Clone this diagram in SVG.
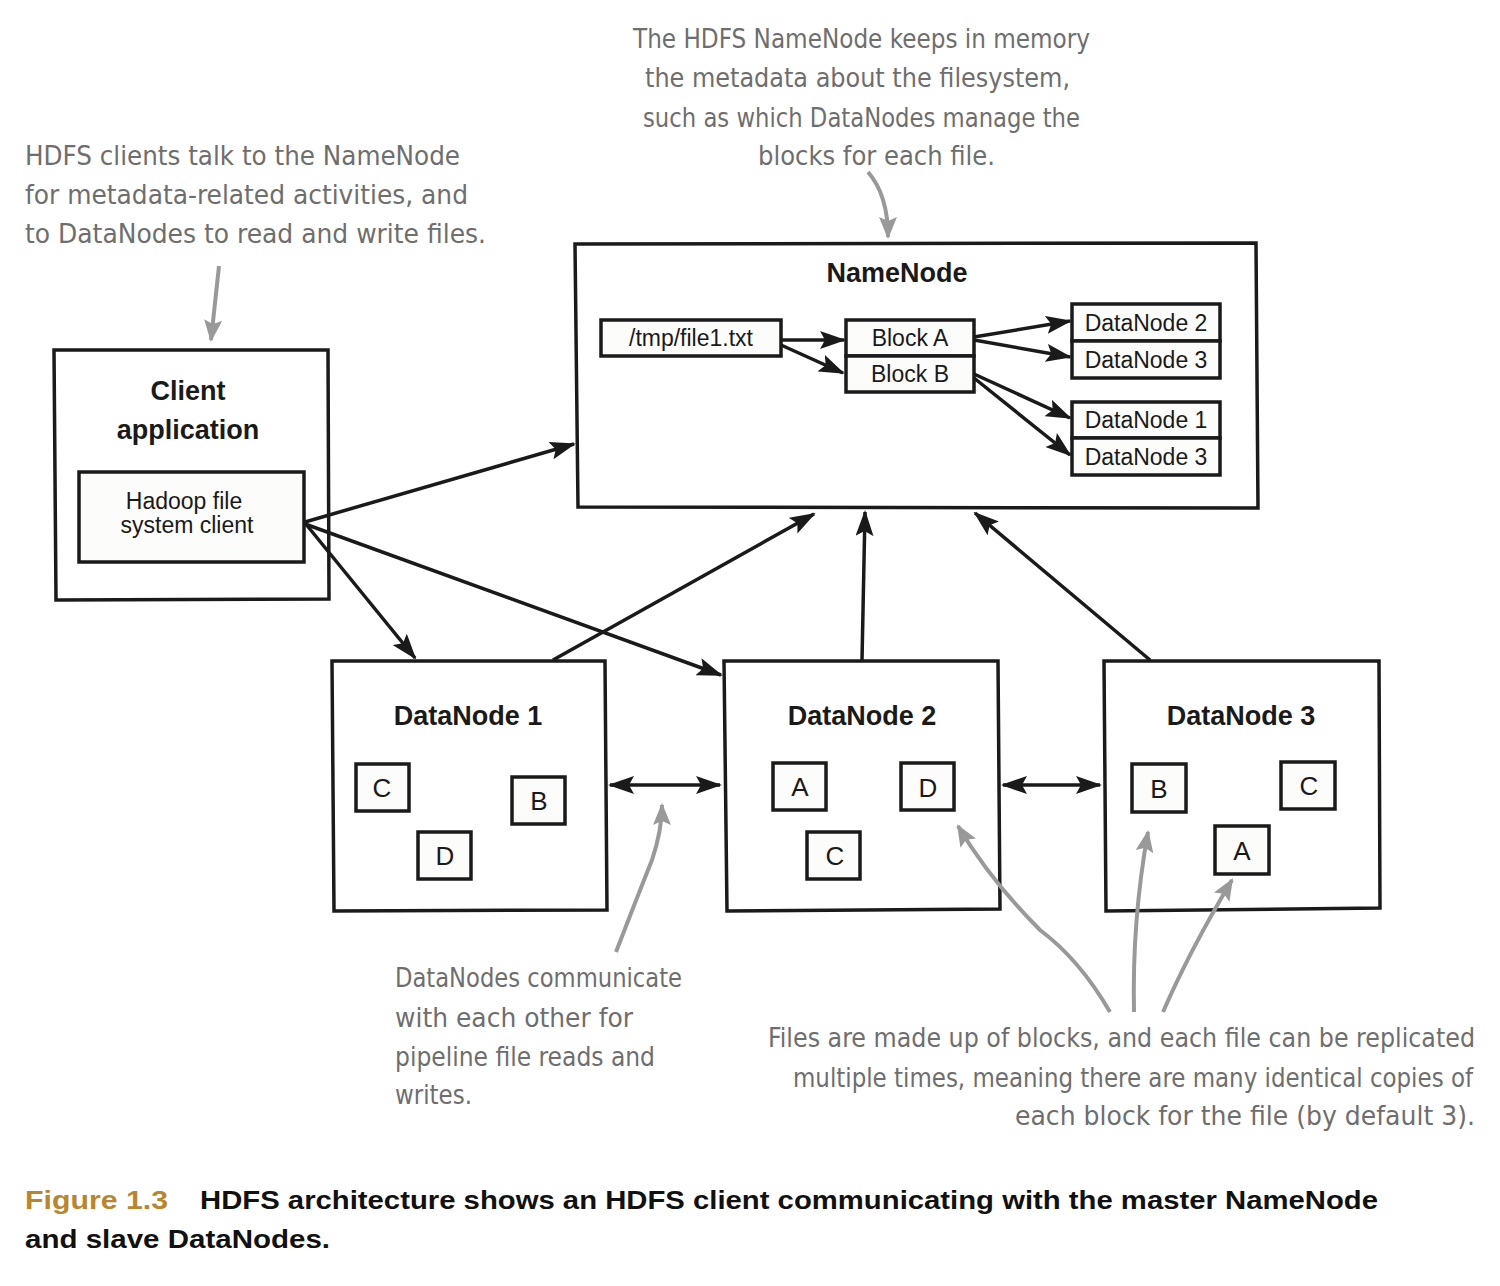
<svg xmlns="http://www.w3.org/2000/svg" width="1500" height="1286" viewBox="0 0 1500 1286">
<style>
.box{fill:#ffffff;stroke:#1a1a1a;stroke-width:3.5}
.ibox{fill:#fcfcfa;stroke:#1a1a1a;stroke-width:3.5}
.title{font-family:"Liberation Sans",Arial,sans-serif;font-weight:bold;font-size:27px;fill:#1a1a1a;text-anchor:middle}
.lbl{font-family:"Liberation Sans",Arial,sans-serif;font-size:23px;fill:#1a1a1a;text-anchor:middle}
.blk{font-family:"Liberation Sans",Arial,sans-serif;font-size:26px;fill:#1a1a1a;text-anchor:middle}
.note{font-family:"DejaVu Sans Condensed","Liberation Sans",sans-serif;font-size:26px;fill:#6e6e6e}
.cap{font-family:"Liberation Sans",Arial,sans-serif;font-weight:bold;font-size:26px;fill:#111}
.conn{stroke:#1a1a1a;stroke-width:3.5;fill:none}
.gconn{stroke:#999;stroke-width:4;fill:none}
</style>
<defs>
<marker id="ah" markerUnits="userSpaceOnUse" markerWidth="26" markerHeight="18" refX="24" refY="9" orient="auto">
<path d="M0,0 L26,9 L0,18 L5,9 Z" fill="#1a1a1a"/>
</marker>
<marker id="ahs" markerUnits="userSpaceOnUse" markerWidth="26" markerHeight="18" refX="24" refY="9" orient="auto-start-reverse">
<path d="M0,0 L26,9 L0,18 L5,9 Z" fill="#1a1a1a"/>
</marker>
<marker id="gh" markerUnits="userSpaceOnUse" markerWidth="22" markerHeight="18" refX="20" refY="9" orient="auto">
<path d="M0,0 L22,9 L0,18 L4,9 Z" fill="#999"/>
</marker>
</defs>
<rect width="1500" height="1286" fill="#ffffff"/>

<g id="note-client">
<text class="note" x="25" y="165" textLength="435" lengthAdjust="spacingAndGlyphs">HDFS clients talk to the NameNode</text>
<text class="note" x="25" y="204" textLength="443" lengthAdjust="spacingAndGlyphs">for metadata-related activities, and</text>
<text class="note" x="25" y="243" textLength="461" lengthAdjust="spacingAndGlyphs">to DataNodes to read and write files.</text>
</g>
<g id="note-namenode">
<text class="note" x="633" y="48" textLength="457" lengthAdjust="spacingAndGlyphs">The HDFS NameNode keeps in memory</text>
<text class="note" x="645" y="87" textLength="425" lengthAdjust="spacingAndGlyphs">the metadata about the filesystem,</text>
<text class="note" x="643" y="127" textLength="437" lengthAdjust="spacingAndGlyphs">such as which DataNodes manage the</text>
<text class="note" x="758" y="165" textLength="237" lengthAdjust="spacingAndGlyphs">blocks for each file.</text>
</g>
<g id="note-pipeline">
<text class="note" x="395" y="987" textLength="287" lengthAdjust="spacingAndGlyphs">DataNodes communicate</text>
<text class="note" x="395" y="1027" textLength="238" lengthAdjust="spacingAndGlyphs">with each other for</text>
<text class="note" x="395" y="1066" textLength="260" lengthAdjust="spacingAndGlyphs">pipeline file reads and</text>
<text class="note" x="395" y="1104" textLength="77" lengthAdjust="spacingAndGlyphs">writes.</text>
</g>
<g id="note-blocks">
<text class="note" x="768" y="1047" textLength="707" lengthAdjust="spacingAndGlyphs">Files are made up of blocks, and each file can be replicated</text>
<text class="note" x="793" y="1087" textLength="680" lengthAdjust="spacingAndGlyphs">multiple times, meaning there are many identical copies of</text>
<text class="note" x="1015" y="1125" textLength="460" lengthAdjust="spacingAndGlyphs">each block for the file (by default 3).</text>
</g>

<g id="namenode">
<path class="box" d="M575,244 L1256,243 L1258,508 L578,507 Z"/>
<text class="title" x="897" y="282">NameNode</text>
<g id="file1">
<rect class="ibox" x="601" y="320" width="180" height="36"/>
<text class="lbl" x="691" y="346">/tmp/file1.txt</text>
</g>
<g id="blockA">
<rect class="ibox" x="846" y="320" width="128" height="36"/>
<text class="lbl" x="910" y="346">Block A</text>
</g>
<g id="blockB">
<rect class="ibox" x="846" y="356" width="128" height="36"/>
<text class="lbl" x="910" y="382">Block B</text>
</g>
<g id="nn-dn2">
<rect class="ibox" x="1072" y="304" width="148" height="37"/>
<text class="lbl" x="1146" y="331">DataNode 2</text>
</g>
<g id="nn-dn3a">
<rect class="ibox" x="1072" y="341" width="148" height="37"/>
<text class="lbl" x="1146" y="368">DataNode 3</text>
</g>
<g id="nn-dn1">
<rect class="ibox" x="1072" y="402" width="148" height="36"/>
<text class="lbl" x="1146" y="428">DataNode 1</text>
</g>
<g id="nn-dn3b">
<rect class="ibox" x="1072" y="438" width="148" height="37"/>
<text class="lbl" x="1146" y="465">DataNode 3</text>
</g>
</g>

<g id="client">
<path class="box" d="M54,350 L328,350 L329,599 L56,600 Z"/>
<text class="title" x="188" y="400" font-size="28">Client</text>
<text class="title" x="188" y="439" font-size="28">application</text>
<g id="hdfs-client">
<rect class="ibox" x="79" y="472" width="225" height="90"/>
<text class="lbl" x="184" y="509">Hadoop file</text>
<text class="lbl" x="187" y="533">system client</text>
</g>
</g>

<g id="datanode1">
<path class="box" d="M332,661 L605,661 L607,910 L334,911 Z"/>
<text class="title" x="468" y="725">DataNode 1</text>
<rect class="ibox" x="356" y="764" width="53" height="47"/><text class="blk" x="382" y="797">C</text>
<rect class="ibox" x="512" y="777" width="53" height="47"/><text class="blk" x="539" y="810">B</text>
<rect class="ibox" x="418" y="832" width="53" height="47"/><text class="blk" x="445" y="865">D</text>
</g>
<g id="datanode2">
<path class="box" d="M724,661 L998,661 L1000,909 L727,911 Z"/>
<text class="title" x="862" y="725">DataNode 2</text>
<rect class="ibox" x="773" y="763" width="53" height="47"/><text class="blk" x="800" y="796">A</text>
<rect class="ibox" x="901" y="763" width="53" height="47"/><text class="blk" x="928" y="797">D</text>
<rect class="ibox" x="807" y="832" width="53" height="47"/><text class="blk" x="835" y="865">C</text>
</g>
<g id="datanode3">
<path class="box" d="M1104,661 L1379,661 L1380,908 L1106,911 Z"/>
<text class="title" x="1241" y="725">DataNode 3</text>
<rect class="ibox" x="1132" y="764" width="54" height="48"/><text class="blk" x="1159" y="798">B</text>
<rect class="ibox" x="1281" y="762" width="54" height="47"/><text class="blk" x="1309" y="795">C</text>
<rect class="ibox" x="1215" y="826" width="54" height="48"/><text class="blk" x="1242" y="860">A</text>
</g>

<g id="connectors">
<line class="conn" x1="781" y1="340" x2="844" y2="340" marker-end="url(#ah)"/>
<line class="conn" x1="781" y1="345" x2="843" y2="373" marker-end="url(#ah)"/>
<line class="conn" x1="974" y1="337" x2="1070" y2="321" marker-end="url(#ah)"/>
<line class="conn" x1="974" y1="340" x2="1070" y2="357" marker-end="url(#ah)"/>
<line class="conn" x1="974" y1="374" x2="1070" y2="418" marker-end="url(#ah)"/>
<line class="conn" x1="974" y1="378" x2="1070" y2="455" marker-end="url(#ah)"/>
<line class="conn" x1="305" y1="522" x2="574" y2="444" marker-end="url(#ah)"/>
<line class="conn" x1="305" y1="523" x2="415" y2="658" marker-end="url(#ah)"/>
<line class="conn" x1="305" y1="524" x2="721" y2="675" marker-end="url(#ah)"/>
<line class="conn" x1="553" y1="660" x2="814" y2="514" marker-end="url(#ah)"/>
<line class="conn" x1="862" y1="660" x2="865" y2="512" marker-end="url(#ah)"/>
<line class="conn" x1="1150" y1="660" x2="975" y2="513" marker-end="url(#ah)"/>
<line class="conn" x1="610" y1="785" x2="720" y2="785" marker-start="url(#ahs)" marker-end="url(#ah)"/>
<line class="conn" x1="1003" y1="785" x2="1100" y2="785" marker-start="url(#ahs)" marker-end="url(#ah)"/>
<line class="gconn" x1="219" y1="266" x2="211" y2="340" marker-end="url(#gh)"/>
<path class="gconn" d="M868,172 Q888,195 888,237" marker-end="url(#gh)"/>
<path class="gconn" d="M616,952 Q640,890 652,860 Q662,830 662,805" marker-end="url(#gh)"/>
<path class="gconn" d="M1110,1012 Q1080,960 1040,930 Q990,880 958,826" marker-end="url(#gh)"/>
<path class="gconn" d="M1134,1012 Q1132,920 1148,832" marker-end="url(#gh)"/>
<path class="gconn" d="M1163,1012 Q1190,950 1232,880" marker-end="url(#gh)"/>
</g>

<g id="caption">
<text class="cap" x="25" y="1209" style="fill:#b8862e" textLength="143" lengthAdjust="spacingAndGlyphs">Figure 1.3</text>
<text class="cap" x="200" y="1209" textLength="1178" lengthAdjust="spacingAndGlyphs">HDFS architecture shows an HDFS client communicating with the master NameNode</text>
<text class="cap" x="25" y="1248" textLength="305" lengthAdjust="spacingAndGlyphs">and slave DataNodes.</text>
</g>
</svg>
